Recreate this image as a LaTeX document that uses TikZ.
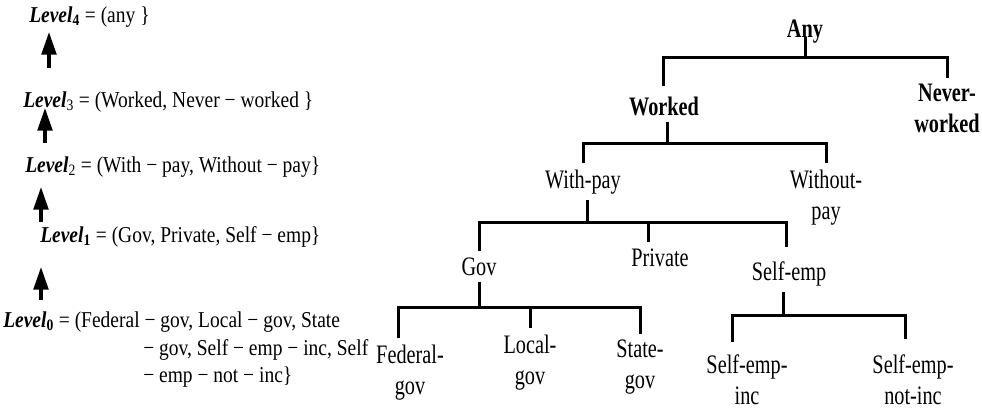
\documentclass[tikz,border=0pt]{standalone}
\usepackage{fontspec}
\setmainfont{Liberation Serif}
\newfontfamily\treefont[FakeStretch=0.76]{Liberation Serif}
\newfontfamily\levelfont[FakeStretch=0.86]{Liberation Serif}
\usetikzlibrary{arrows.meta}
\tikzset{
  hier level/.style={anchor=base west, inner sep=0pt, font=\levelfont\fontsize{17}{20}\selectfont},
  hier node/.style={align=center, inner sep=4.5pt, font=\treefont\fontsize{20}{23.25}\selectfont},
  hier top/.style={hier node, font=\treefont\fontsize{20}{23.25}\selectfont\bfseries},
  hier branch/.style={line width=2.25pt},
  hier arrow/.style={line width=2.5pt, -{Triangle[width=11pt,length=17pt]}}
}
\newcommand{\lvlname}[1]{\textbf{\textit{Level}}\textsubscript{#1}}

\begin{document}
\begin{tikzpicture}[x=0.75pt, y=-0.75pt]
    \useasboundingbox (0,0) rectangle (982,408);

    % Level sets
    \node [hier level] (L4) at (29,22) {\lvlname{\textbf{4}} = (any \}};
    \node [hier level] (L3) at (23,107) {\lvlname{3} = (Worked, Never − worked \}};
    \node [hier level] (L2) at (25,172) {\lvlname{2} = (With − pay, Without − pay\}};
    \node [hier level] (L1) at (40,242) {\lvlname{\textbf{1}} = (Gov, Private, Self − emp\}};
    \node [hier level] (L0) at (3,327) {\lvlname{\textbf{0}} = (Federal − gov, Local − gov, State};
    \node [hier level] (L0b) at (143,355) {− gov, Self − emp − inc, Self};
    \node [hier level] (L0c) at (143,382) {− emp − not − inc\}};

    % Generalization arrows
    \coordinate (A4 from) at (49,68);  \coordinate (A4 to) at (49,32);
    \coordinate (A3 from) at (45,143); \coordinate (A3 to) at (45,108);
    \coordinate (A2 from) at (41,222); \coordinate (A2 to) at (41,187);
    \coordinate (A1 from) at (41,300); \coordinate (A1 to) at (41,267);
    \draw [hier arrow] (A4 from) -- (A4 to);
    \draw [hier arrow] (A3 from) -- (A3 to);
    \draw [hier arrow] (A2 from) -- (A2 to);
    \draw [hier arrow] (A1 from) -- (A1 to);

    % Hierarchy tree
    \node [hier top, anchor=base] (Any) at (805,37) {Any};
    \node [hier top, anchor=base] (Worked) at (664,115) {Worked};
    \node [hier top] (Never) at (947,108.6) {Never-\\worked};
    \node [hier node, anchor=base] (WithPay) at (583,188) {With-pay};
    \node [hier node] (WithoutPay) at (826,197.3) {Without-\\pay};
    \node [hier node, anchor=base] (Gov) at (479,275) {Gov};
    \node [hier node, anchor=base] (Private) at (660,266) {Private};
    \node [hier node, anchor=base] (SelfEmp) at (789,280) {Self-emp};
    \node [hier node] (Federal) at (410,372.3) {Federal-\\gov};
    \node [hier node] (Local) at (530,362.3) {Local-\\gov};
    \node [hier node] (State) at (640,367.3) {State-\\gov};
    \node [hier node] (SEInc) at (747,379.4) {Self-emp-\\inc};
    \node [hier node] (SENotInc) at (913,379.4) {Self-emp-\\not-inc};

    % Bar heights
    \coordinate (bar1) at (0,57);
    \coordinate (bar2) at (0,143);
    \coordinate (bar3) at (0,222);
    \coordinate (bar4) at (0,307);
    \coordinate (bar5) at (0,315);

    % Drop ends that sit off the label centre
    \coordinate (Worked in) at ([xshift=-0.75pt, yshift=3pt]Worked.north);
    \coordinate (SelfEmp in) at ([xshift=-2pt, yshift=6pt]SelfEmp.north);
    \coordinate (Private in) at ([xshift=-9pt]Private.north);
    \coordinate (Federal in) at ([xshift=-9pt]Federal.north);
    \coordinate (SEInc in) at ([xshift=-11pt, yshift=4.5pt]SEInc.north);
    \coordinate (SENotInc in) at ([xshift=-6pt, yshift=6.5pt]SENotInc.north);

    % Branches
    \draw [hier branch] (Any.base) -- (Any.base |- bar1);
    \draw [hier branch] (Worked in) |- (Never.north |- bar1) -- (Never.north);

    \draw [hier branch] ([xshift=2.25pt]Worked.south) -- ([xshift=2.25pt]Worked.south |- bar2);
    \draw [hier branch] (WithPay.north) |- (WithoutPay.north |- bar2) -- (WithoutPay.north);

    \draw [hier branch] ([xshift=3pt]WithPay.south) -- ([xshift=3pt]WithPay.south |- bar3);
    \draw [hier branch] (Gov.north) |- (SelfEmp in |- bar3) -- (SelfEmp in);
    \draw [hier branch] (Private in) -- (Private in |- bar3);

    \draw [hier branch] (Gov.south) -- (Gov.south |- bar4);
    \draw [hier branch] (Federal in) |- (State.north |- bar4) -- (State.north);
    \draw [hier branch] (Local.north) -- (Local.north |- bar4);

    \draw [hier branch] ([xshift=-4.5pt]SelfEmp.south) -- ([xshift=-4.5pt]SelfEmp.south |- bar5);
    \draw [hier branch] (SEInc in) |- (SENotInc in |- bar5) -- (SENotInc in);
\end{tikzpicture}
\end{document}
